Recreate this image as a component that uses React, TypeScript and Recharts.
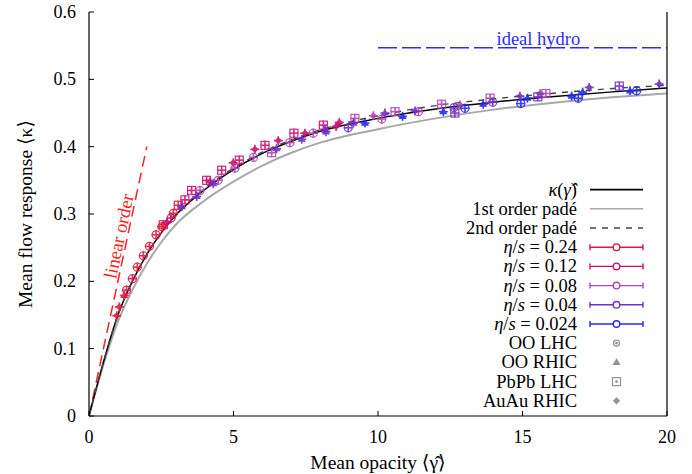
import React from "react"
import {
  ComposedChart,
  Line,
  Scatter,
  XAxis,
  YAxis,
  ReferenceDot,
  Legend,
} from "recharts"

// curves: opacity g, response k
const curveG = [0, 0.5, 1, 1.5, 2, 2.5, 3, 4, 5, 6, 7, 8, 10, 12, 14, 16, 18, 20]
const kappaK = [0, 0.08, 0.15, 0.2, 0.24, 0.272, 0.298, 0.336, 0.366, 0.39, 0.408, 0.423, 0.442, 0.456, 0.466, 0.474, 0.481, 0.487]
const pade1K = [0, 0.076, 0.14, 0.187, 0.226, 0.258, 0.284, 0.32, 0.348, 0.372, 0.391, 0.406, 0.426, 0.442, 0.455, 0.465, 0.473, 0.479]
const pade2K = [0, 0.08, 0.15, 0.2, 0.24, 0.272, 0.299, 0.338, 0.368, 0.392, 0.41, 0.425, 0.446, 0.461, 0.471, 0.479, 0.486, 0.491]

const linearG = [0, 2]
const linearK = [0, 0.4]
const hydroG = [10, 20]
const hydroK = [0.547, 0.547]

// simulation points [opacity, response, system]
type Pt = [number, number, string]
const eta024: Pt[] = [
  [0.96, 0.149, "AuAu"], [1.05, 0.162, "AuAu"], [1.22, 0.179, "OOR"], [1.3, 0.187, "OOL"],
  [1.5, 0.204, "OOL"], [1.67, 0.221, "OOL"], [1.88, 0.238, "OOL"], [2.09, 0.252, "OOL"],
  [2.32, 0.269, "OOL"], [2.52, 0.281, "OOL"], [2.57, 0.284, "PbPb"], [2.92, 0.301, "OOL"],
  [3.09, 0.313, "PbPb"],
]
const eta012: Pt[] = [
  [2.69, 0.287, "AuAu"], [2.84, 0.294, "OOL"], [3.32, 0.321, "PbPb"], [3.55, 0.335, "PbPb"],
  [4.07, 0.35, "PbPb"], [4.19, 0.348, "AuAu"], [4.59, 0.365, "PbPb"], [4.99, 0.376, "AuAu"],
  [5.2, 0.38, "PbPb"], [5.74, 0.396, "AuAu"], [6.09, 0.402, "PbPb"], [6.55, 0.409, "AuAu"],
  [7.09, 0.42, "PbPb"], [7.47, 0.42, "AuAu"], [8.11, 0.432, "PbPb"], [8.55, 0.43, "AuAu"],
  [8.66, 0.436, "AuAu"],
]
const eta008: Pt[] = [
  [3.84, 0.335, "OOL"], [4.47, 0.35, "OOL"], [5.05, 0.368, "OOL"], [5.69, 0.384, "OOL"],
  [6.32, 0.391, "PbPb"], [6.95, 0.406, "OOL"], [7.76, 0.42, "OOL"], [9.2, 0.442, "PbPb"],
  [9.84, 0.446, "AuAu"], [10.13, 0.441, "OOL"], [10.59, 0.452, "PbPb"], [11.4, 0.452, "OOL"],
  [12.2, 0.463, "PbPb"], [12.84, 0.462, "AuAu"], [13.88, 0.472, "PbPb"], [15.61, 0.479, "AuAu"],
  [15.81, 0.479, "PbPb"],
]
const eta004: Pt[] = [
  [3.21, 0.311, "OOR"], [3.73, 0.326, "OOR"], [4.3, 0.345, "OOR"], [6.49, 0.397, "OOR"],
  [7.36, 0.411, "OOR"], [8.17, 0.425, "OOR"], [8.2, 0.422, "OOR"], [8.97, 0.428, "OOL"],
  [9.15, 0.435, "OOR"], [10.24, 0.45, "OOR"], [11.28, 0.453, "AuAu"], [12.63, 0.458, "OOL"],
  [12.66, 0.45, "PbPb"], [13.97, 0.466, "OOL"], [14.91, 0.475, "AuAu"], [15.53, 0.474, "PbPb"],
  [17.31, 0.488, "AuAu"], [18.35, 0.49, "PbPb"], [19.73, 0.493, "AuAu"],
]
const eta0024: Pt[] = [
  [9.55, 0.435, "OOR"], [10.85, 0.445, "OOR"], [12.26, 0.452, "OOR"], [13.01, 0.457, "OOL"],
  [13.64, 0.463, "OOR"], [14.94, 0.464, "OOL"], [15.17, 0.472, "OOR"], [16.7, 0.475, "OOR"],
  [16.93, 0.472, "OOL"], [17.08, 0.481, "OOR"], [18.72, 0.483, "OOR"], [18.95, 0.483, "OOL"],
]

const xTicks = [0, 5, 10, 15, 20]
const yTicks = [0, 0.1, 0.2, 0.3, 0.4, 0.5, 0.6]
const yTickLabels = ["0", "0.1", "0.2", "0.3", "0.4", "0.5", "0.6"]

const etaLabels = ["0.24", "0.12", "0.08", "0.04", "0.024"]
const etaColors = ["#e01840", "#cc1070", "#b048b0", "#7030c8", "#2828ee"]
const systemLabels = ["OO LHC", "OO RHIC", "PbPb LHC", "AuAu RHIC"]
const systemCodes = ["OOL", "OOR", "PbPb", "AuAu"]

const toRows = (g: number[], k: number[]) => g.map((v, i) => ({ g: v, k: k[i] }))
const toPts = (pts: Pt[]) => pts.map(([g, k, s]) => ({ g, k, s }))

const FONT = "'Liberation Serif', 'DejaVu Serif', serif"

function MarkerGlyph({ cx, cy, s, color, errs }: any) {
  const w = 1.2
  return (
    <g stroke={color} fill="none" strokeWidth={w} opacity={0.9}>
      {errs && (
        <>
          <line x1={cx - 4.5} x2={cx + 4.5} y1={cy} y2={cy} strokeWidth={1.6} />
          <line x1={cx} x2={cx} y1={cy - 4.5} y2={cy + 4.5} strokeWidth={1.6} />
        </>
      )}
      {s === "OOL" && <circle cx={cx} cy={cy} r={errs ? 4 : 3} />}
      {s === "OOL" && !errs && <circle cx={cx} cy={cy} r={0.8} fill={color} />}
      {s === "OOR" && (
        <path d={`M${cx},${cy - 3}L${cx + 3},${cy + 2}L${cx - 3},${cy + 2}Z`} fill={color} />
      )}
      {s === "PbPb" && <rect x={cx - 4} y={cy - 4} width={8} height={8} />}
      {s === "PbPb" && !errs && <circle cx={cx} cy={cy} r={0.8} fill={color} />}
      {s === "AuAu" && (
        <path d={`M${cx},${cy - 2.8}L${cx + 2.8},${cy}L${cx},${cy + 2.8}L${cx - 2.8},${cy}Z`} fill={color} />
      )}
    </g>
  )
}

const pointShape = (color: string) => (props: any) =>
  <MarkerGlyph cx={props.cx} cy={props.cy} s={props.payload.s} color={color} errs />

function BottomTick({ x, y, payload }: any) {
  return (
    <g>
      <line x1={x} x2={x} y1={y} y2={y - 5} stroke="#000" />
      <text x={x} y={y + 27} textAnchor="middle" fontSize={18} fill="#000">
        {payload.value}
      </text>
    </g>
  )
}

function TopTick({ x, y }: any) {
  return <line x1={x} x2={x} y1={y} y2={y + 5} stroke="#000" />
}

function LeftTick({ x, y, index }: any) {
  return (
    <g>
      <line x1={x} x2={x + 5} y1={y} y2={y} stroke="#000" />
      <text x={x - 13} y={y + 6} textAnchor="end" fontSize={18} fill="#000">
        {yTickLabels[index]}
      </text>
    </g>
  )
}

function RightTick({ x, y }: any) {
  return <line x1={x} x2={x - 5} y1={y} y2={y} stroke="#000" />
}

function Italic({ children }: any) {
  return <tspan fontStyle="italic">{children}</tspan>
}

function KeyBox() {
  const right = 197
  const x1 = 210
  const x2 = 263
  const mid = (x1 + x2) / 2
  const row = (i: number) => 11.6 + 19.2 * i
  return (
    <svg width={300} height={240} style={{ fontFamily: FONT, overflow: "visible" }}>
      <g fontSize={18.5} fill="#000" textAnchor="end">
        <text x={right} y={row(0) + 6}>
          <Italic>κ</Italic>(<Italic>γ̂</Italic>)
        </text>
        <text x={right} y={row(1) + 6}>1st order padé</text>
        <text x={right} y={row(2) + 6}>2nd order padé</text>
        {etaLabels.map((l, i) => (
          <text key={l} x={right} y={row(3 + i) + 6}>
            <Italic>η</Italic>/<Italic>s</Italic> = {l}
          </text>
        ))}
        {systemLabels.map((l, i) => (
          <text key={l} x={right} y={row(8 + i) + 6}>{l}</text>
        ))}
      </g>
      <line x1={x1} x2={x2} y1={row(0)} y2={row(0)} stroke="#000" strokeWidth={1.6} />
      <line x1={x1} x2={x2} y1={row(1)} y2={row(1)} stroke="#a8a8a8" strokeWidth={1.6} />
      <line x1={x1} x2={x2} y1={row(2)} y2={row(2)} stroke="#444" strokeWidth={1.3} strokeDasharray="6 6" />
      {etaColors.map((c, i) => {
        const y = row(3 + i)
        return (
          <g key={c} stroke={c} strokeWidth={1.4} fill="none">
            <line x1={x1} x2={x2} y1={y} y2={y} />
            <line x1={x1} x2={x1} y1={y - 3} y2={y + 3} />
            <line x1={x2} x2={x2} y1={y - 3} y2={y + 3} />
            <circle cx={mid} cy={y} r={3.3} fill="#fff" />
          </g>
        )
      })}
      {systemCodes.map((s, i) => (
        <MarkerGlyph key={s} cx={mid} cy={row(8 + i)} s={s} color="#888" errs={false} />
      ))}
    </svg>
  )
}

function HydroLabel({ viewBox }: any) {
  return (
    <text x={viewBox.x} y={viewBox.y - 3} textAnchor="middle" fontSize={18.5} fill="#2b2bff">
      ideal hydro
    </text>
  )
}

function LinearLabel({ viewBox }: any) {
  return (
    <text
      x={viewBox.x}
      y={viewBox.y}
      textAnchor="middle"
      dominantBaseline="central"
      fontSize={18.5}
      fill="#ff2020"
      transform={`rotate(-78 ${viewBox.x} ${viewBox.y})`}
    >
      linear order
    </text>
  )
}

export default function App() {
  return (
    <div style={{ position: "absolute", left: 0, top: 0, fontFamily: FONT, background: "#fff" }}>
      <ComposedChart width={692} height={474} margin={{ top: 12, right: 0, bottom: 0, left: 0 }}>
        <XAxis
          dataKey="g"
          type="number"
          domain={[0, 20]}
          ticks={xTicks}
          allowDataOverflow
          height={58}
          tickSize={0}
          tickMargin={0}
          tick={<BottomTick />}
          axisLine={{ stroke: "#000", strokeWidth: 1.2 }}
          label={{ value: "Mean opacity ⟨γ̂⟩", position: "insideBottom", offset: 5, fontSize: 19.5, fill: "#000" }}
        />
        <XAxis
          xAxisId="top"
          orientation="top"
          type="number"
          domain={[0, 20]}
          ticks={xTicks}
          height={0}
          tickSize={0}
          tickMargin={0}
          tick={<TopTick />}
          axisLine={{ stroke: "#000", strokeWidth: 1.2 }}
        />
        <YAxis
          dataKey="k"
          type="number"
          domain={[0, 0.6]}
          ticks={yTicks}
          allowDataOverflow
          width={89}
          tickSize={0}
          tickMargin={0}
          tick={<LeftTick />}
          axisLine={{ stroke: "#000", strokeWidth: 1.2 }}
          label={{
            value: "Mean flow response ⟨κ⟩",
            angle: -90,
            position: "insideLeft",
            offset: 25,
            style: { textAnchor: "middle" },
            fontSize: 19.5,
            fill: "#000",
          }}
        />
        <YAxis
          yAxisId="right"
          orientation="right"
          type="number"
          domain={[0, 0.6]}
          ticks={yTicks}
          width={25}
          tickSize={0}
          tickMargin={0}
          tick={<RightTick />}
          axisLine={{ stroke: "#000", strokeWidth: 1.2 }}
        />

        <Line data={toRows(linearG, linearK)} dataKey="k" type="linear" stroke="#ff2020" strokeWidth={1.5} strokeDasharray="11 6" dot={false} isAnimationActive={false} />
        <Line data={toRows(hydroG, hydroK)} dataKey="k" type="linear" stroke="#2b2bff" strokeWidth={1.6} strokeDasharray="19 5" dot={false} isAnimationActive={false} />
        <Line data={toRows(curveG, pade1K)} dataKey="k" type="monotone" stroke="#a8a8a8" strokeWidth={2} dot={false} isAnimationActive={false} />
        <Line data={toRows(curveG, kappaK)} dataKey="k" type="monotone" stroke="#000" strokeWidth={1.5} dot={false} isAnimationActive={false} />
        <Line data={toRows(curveG, pade2K)} dataKey="k" type="monotone" stroke="#444" strokeWidth={1.4} strokeDasharray="6 6" dot={false} isAnimationActive={false} />

        <Scatter data={toPts(eta024)} dataKey="k" shape={pointShape(etaColors[0])} isAnimationActive={false} />
        <Scatter data={toPts(eta012)} dataKey="k" shape={pointShape(etaColors[1])} isAnimationActive={false} />
        <Scatter data={toPts(eta008)} dataKey="k" shape={pointShape(etaColors[2])} isAnimationActive={false} />
        <Scatter data={toPts(eta004)} dataKey="k" shape={pointShape(etaColors[3])} isAnimationActive={false} />
        <Scatter data={toPts(eta0024)} dataKey="k" shape={pointShape(etaColors[4])} isAnimationActive={false} />

        <ReferenceDot x={15.55} y={0.547} r={0} stroke="none" fill="none" label={<HydroLabel />} />
        <ReferenceDot x={1.04} y={0.267} r={0} stroke="none" fill="none" label={<LinearLabel />} />

        <Legend
          layout="vertical"
          align="center"
          verticalAlign="middle"
          content={() => <KeyBox />}
          wrapperStyle={{ position: "absolute", left: 380, top: 178, width: 300, height: 240 }}
        />
      </ComposedChart>
    </div>
  )
}
